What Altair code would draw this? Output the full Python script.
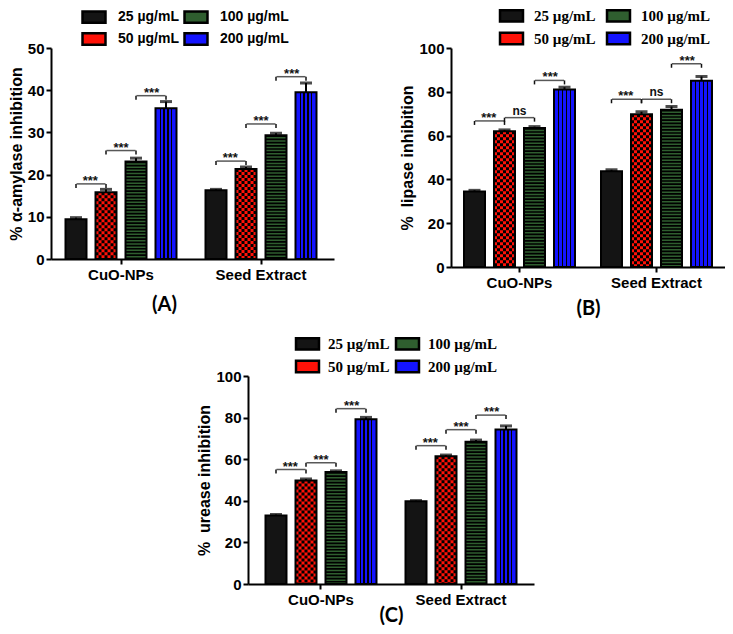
import altair as alt
import pandas as pd

groups = ["CuO-NPs", "Seed Extract"]
concs = ["25 µg/mL", "50 µg/mL", "100 µg/mL", "200 µg/mL"]
conc_colors = ["#141414", "#ff1208", "#2f5e2f", "#1414ff"]

# (A) alpha-amylase
a_cuo = [9.4, 15.8, 23.1, 35.7]
a_cuo_err = [0.4, 0.7, 0.8, 1.6]
a_seed = [16.3, 21.3, 29.3, 39.5]
a_seed_err = [0.2, 0.5, 0.5, 2.2]
a_cuo_brk = [17.8, 25.7, 38.7]
a_seed_brk = [23.2, 32.0, 43.2]
a_cuo_sig = ["***", "***", "***"]
a_seed_sig = ["***", "***", "***"]

# (B) lipase
b_cuo = [34.5, 62.0, 63.5, 81.0]
b_cuo_err = [0.5, 0.6, 0.6, 1.1]
b_seed = [43.7, 69.7, 71.8, 85.0]
b_seed_err = [0.7, 1.2, 1.5, 2.0]
b_cuo_brk = [66.7, 68.2, 85.2]
b_seed_brk = [76.6, 76.6, 92.8]
b_cuo_sig = ["***", "ns", "***"]
b_seed_sig = ["***", "ns", "***"]

# (C) urease
c_cuo = [32.9, 49.7, 53.8, 79.2]
c_cuo_err = [0.5, 0.8, 0.6, 0.9]
c_seed = [39.8, 61.4, 68.4, 74.3]
c_seed_err = [0.3, 0.6, 0.8, 1.7]
c_cuo_brk = [55.0, 58.3, 84.3]
c_seed_brk = [66.5, 74.2, 81.2]
c_cuo_sig = ["***", "***", "***"]
c_seed_sig = ["***", "***", "***"]

SANS = "Liberation Sans"
SERIF = "Liberation Serif"

cell_domain = ([f"L{i}" for i in range(4)]
               + [f"{k}|{c}" for k in range(4) for c in range(10 if k < 3 else 7)]
               + [f"R{i}" for i in range(4)])

blue_stops = [alt.GradientStop(offset=0, color="#1414ff")]
for c in [0.229, 0.41, 0.59, 0.771]:
    blue_stops += [
        alt.GradientStop(offset=c - 0.03, color="#1414ff"),
        alt.GradientStop(offset=c - 0.03, color="#000000"),
        alt.GradientStop(offset=c + 0.03, color="#000000"),
        alt.GradientStop(offset=c + 0.03, color="#1414ff"),
    ]
blue_stops.append(alt.GradientStop(offset=1, color="#1414ff"))
blue_fill = alt.LinearGradient(gradient="linear", stops=blue_stops, x1=0, x2=1, y1=0, y2=0)


def make_panel(p, cuo, cuo_err, seed, seed_err, cuo_brk, seed_brk, cuo_sig, seed_sig):
    W, H = p["width"], p["height"]
    G = W / (2 + 2 * p["po"])
    qo = (G / 30 - 3.7) / 2
    cell_outer = qo * 10 - 4
    tick_units = 4 * p["ymax"] / H

    rows, checks, brks = [], [], []
    for g, vals, errs in ((groups[0], cuo, cuo_err), (groups[1], seed, seed_err)):
        for k, (c, v, e) in enumerate(zip(concs, vals, errs)):
            rows.append(dict(group=g, conc=c, value=v, top=v + e))
            if k == 1:
                for col in range(7):
                    checks.append(dict(group=g, cell=f"1|{col}", value=v, parity=col % 2))
    for g, levels, sigs in ((groups[0], cuo_brk, cuo_sig), (groups[1], seed_brk, seed_sig)):
        for k, (lv, s) in enumerate(zip(levels, sigs)):
            brks.append(dict(group=g, level=lv, low=lv - tick_units, label=s,
                             cm=f"{k}|8", cl=f"{k}|3", cr=f"{k + 1}|3"))
    df = pd.DataFrame(rows)
    dfc = pd.DataFrame(checks)
    dfb = pd.DataFrame(brks)

    xaxis_kw = dict(title=p["xtitle"], labelAngle=0, domainWidth=2, domainColor="black",
                    tickWidth=2, tickColor="black", tickSize=5, labelFont=SANS,
                    labelFontSize=15, labelFontWeight="bold", labelColor="black",
                    labelPadding=3, titleFont="Lato", titleFontSize=20,
                    titleFontWeight="bold", titleColor="black", titlePadding=p["xtp"])
    if "titleX" in p:
        xaxis_kw["titleX"] = p["titleX"]
    X = alt.X("group:N", scale=alt.Scale(domain=groups, paddingInner=0,
                                           paddingOuter=p["po"], align=p["align"]),
              axis=alt.Axis(**xaxis_kw))
    yaxis = alt.Axis(title=p["ytitle"], values=p["yticks"], grid=False, domainWidth=2,
                     domainColor="black", tickWidth=2, tickColor="black", tickSize=5,
                     labelFont=SANS, labelFontSize=15, labelFontWeight="bold",
                     labelColor="black", labelPadding=2, titleFont=SANS, titleFontSize=16,
                     titleFontWeight="bold", titleColor="black", titlePadding=3)
    yscale = alt.Scale(domain=[0, p["ymax"]], nice=False)

    def Y(f):
        return alt.Y(f"{f}:Q", scale=yscale, axis=yaxis)

    XO = alt.XOffset("conc:N", scale=alt.Scale(domain=concs, paddingInner=0.3, paddingOuter=qo))

    def XC(f):
        return alt.XOffset(f"{f}:N", scale=alt.Scale(domain=cell_domain, paddingInner=0,
                                                      paddingOuter=cell_outer))

    legend = alt.Legend(orient="none", legendX=p["lx"], legendY=p["ly"], columns=2, title=None,
                        symbolType="M-2,-1H2V1H-2Z", symbolSize=132,
                        symbolStrokeColor="black", symbolStrokeWidth=2.5, symbolOpacity=1,
                        labelFont=p["lfont"], labelFontSize=p["lsize"], labelFontWeight="bold",
                        labelColor="black", labelOffset=p["loff"], columnPadding=p["lcol"],
                        rowPadding=0)

    base = alt.Chart(df).mark_bar(strokeWidth=0).encode(
        x=X, xOffset=XO, y=Y("value"),
        color=alt.Color("conc:N", scale=alt.Scale(domain=concs, range=conc_colors),
                        legend=legend))
    green = alt.Chart(df).transform_filter(alt.datum.conc == "100 µg/mL").mark_rule(
        color="black", strokeWidth=21, strokeDash=[1.7, 1.5]).encode(
        x=X, xOffset=XO, y=Y("value"), y2=alt.datum(0))
    blue = alt.Chart(df).transform_filter(alt.datum.conc == "200 µg/mL").mark_bar(
        fill=blue_fill, strokeWidth=0).encode(x=X, xOffset=XO, y=Y("value"))
    chk0 = alt.Chart(dfc).transform_filter(alt.datum.parity == 0).mark_rule(
        color="black", strokeWidth=3, strokeDash=[3, 3], strokeDashOffset=0).encode(
        x=X, xOffset=XC("cell"), y=Y("value"), y2=alt.datum(0))
    chk1 = alt.Chart(dfc).transform_filter(alt.datum.parity == 1).mark_rule(
        color="black", strokeWidth=3, strokeDash=[3, 3], strokeDashOffset=3).encode(
        x=X, xOffset=XC("cell"), y=Y("value"), y2=alt.datum(0))
    outline = alt.Chart(df).mark_bar(fillOpacity=0, stroke="black", strokeWidth=2).encode(
        x=X, xOffset=XO, y=Y("value"))
    err = alt.Chart(df).mark_rule(color="black", strokeWidth=2).encode(
        x=X, xOffset=XO, y=Y("value"), y2="top:Q")
    cap = alt.Chart(df).mark_tick(color="black", thickness=3, size=12).encode(
        x=X, xOffset=XO, y=Y("top"))
    bline = alt.Chart(dfb).mark_tick(color="#111111", thickness=1.5, size=29).encode(
        x=X, xOffset=XC("cm"), y=Y("level"))
    bl = alt.Chart(dfb).mark_rule(color="#111111", strokeWidth=1.5).encode(
        x=X, xOffset=XC("cl"), y=Y("level"), y2="low:Q")
    br = alt.Chart(dfb).mark_rule(color="#111111", strokeWidth=1.5).encode(
        x=X, xOffset=XC("cr"), y=Y("level"), y2="low:Q")
    stars = alt.Chart(dfb).transform_filter(alt.datum.label == "***").mark_text(
        font=SANS, fontSize=13, fontWeight="bold", color="#111111", baseline="alphabetic",
        dy=1).encode(x=X, xOffset=XC("cm"), y=Y("level"), text="label:N")
    ns = alt.Chart(dfb).transform_filter(alt.datum.label == "ns").mark_text(
        font=SANS, fontSize=12, fontWeight="bold", color="#111111", baseline="alphabetic",
        dy=-3).encode(x=X, xOffset=XC("cm"), y=Y("level"), text="label:N")

    return alt.layer(base, green, blue, chk0, chk1, outline, err, cap, bline, bl, br,
                     stars, ns).resolve_scale(xOffset="independent").properties(
        width=W, height=H)


pA = dict(width=283, height=211, po=0.0107, align=0, ymax=50, yticks=[0, 10, 20, 30, 40, 50],
          ytitle="% α-amylase inhibition", xtitle="(A)", xtp=12, titleX=113,
          lx=36, ly=-38, lfont=SANS, lsize=14, lcol=0, loff=17)
pB = dict(width=274, height=219, po=0, align=0.5, ymax=100, yticks=[0, 20, 40, 60, 80, 100],
          ytitle="% \u00a0lipase inhibition", xtitle="(B)", xtp=8,
          lx=53, ly=-40, lfont=SERIF, lsize=15, lcol=6, loff=15)
pC = dict(width=286, height=208, po=0.0214, align=0.5, ymax=100, yticks=[0, 20, 40, 60, 80, 100],
          ytitle="% \u00a0urease inhibition", xtitle="(C)", xtp=-2,
          lx=52, ly=-40, lfont=SERIF, lsize=15, lcol=1, loff=13)

A = make_panel(pA, a_cuo, a_cuo_err, a_seed, a_seed_err, a_cuo_brk, a_seed_brk, a_cuo_sig, a_seed_sig)
B = make_panel(pB, b_cuo, b_cuo_err, b_seed, b_seed_err, b_cuo_brk, b_seed_brk, b_cuo_sig, b_seed_sig)
C = make_panel(pC, c_cuo, c_cuo_err, c_seed, c_seed_err, c_cuo_brk, c_seed_brk, c_cuo_sig, c_seed_sig)

spacer = alt.Chart(pd.DataFrame({"v": [0]})).mark_point(opacity=0).encode(
    x=alt.X("v:Q", axis=None), y=alt.Y("v:Q", axis=None)).properties(width=145, height=10)

row1 = alt.hconcat(A, B, spacing=65).resolve_scale(color="independent", xOffset="independent").resolve_legend(color="independent")
row2 = alt.hconcat(spacer, C, spacing=0).resolve_scale(color="independent", xOffset="independent").resolve_legend(color="independent")

chart = alt.vconcat(row1, row2, spacing=18).resolve_scale(
    color="independent", xOffset="independent").resolve_legend(color="independent").properties(
    padding={"left": 0, "top": 0, "right": 0, "bottom": 0}).configure_view(stroke=None)

chart.save("out.html", embed_options={"renderer": "svg", "actions": False})
